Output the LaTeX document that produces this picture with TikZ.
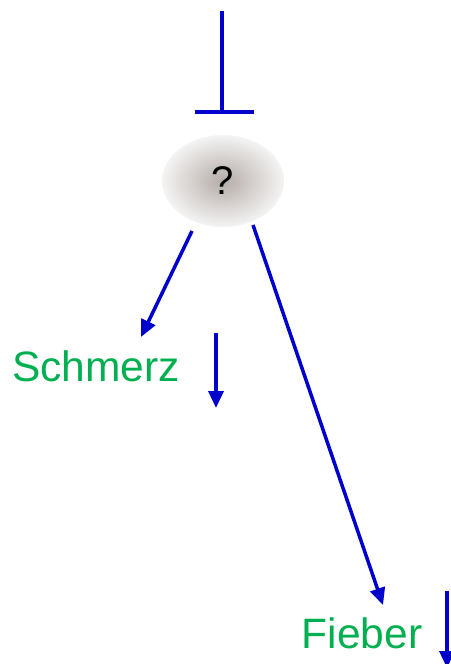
\documentclass[tikz,border=0pt]{standalone}
\usepackage{fontspec}
\setmainfont{Liberation Sans}
\usetikzlibrary{arrows.meta,shapes.geometric}
\definecolor{arrblue}{RGB}{0,0,204}
\definecolor{txtgreen}{RGB}{0,176,80}
\definecolor{shadein}{RGB}{180,172,168}
\definecolor{shadeout}{RGB}{244,244,244}
\tikzset{
  link/.style={draw=arrblue, line width=3.5pt},
  arr/.style={link, -{Triangle[length=17pt,width=15pt]}},
  label/.style={text=txtgreen, font=\fontsize{42.5}{50}\selectfont, inner sep=0pt},
  qnode/.style={ellipse, minimum width=122pt, minimum height=92pt, inner sep=0pt,
    inner color=shadein, outer color=shadeout, font=\fontsize{40}{48}\selectfont}
}
\begin{document}
\begin{tikzpicture}[x=1pt,y=-1pt]
\useasboundingbox (0,0) rectangle (450,664);
% inhibitor
\coordinate (top) at (222,11);
\coordinate (bar) at (222,112);
\coordinate (barL) at (195,112);
\coordinate (barR) at (254,112);
\draw[link] (top) -- (bar);
\draw[link] (barL) -- (barR);
% central node
\node[qnode] (q) at (223,181) {?};
% outputs
\node[label, anchor=base] (s) at (96,381) {Schmerz};
\node[label, anchor=base] (f) at (362,648) {Fieber};
\coordinate (a1s) at (192,231);
\coordinate (a1e) at (141,337);
\coordinate (a2s) at (253,225);
\coordinate (a2e) at (383,605);
\draw[arr] (a1s) -- (a1e);
\draw[arr] (a2s) -- (a2e);
% small down arrows
\coordinate (d1s) at (216,333);
\coordinate (d1e) at (216,408);
\coordinate (d2s) at (447,591);
\coordinate (d2e) at (447,668);
\draw[arr] (d1s) -- (d1e);
\draw[arr] (d2s) -- (d2e);
\end{tikzpicture}
\end{document}
